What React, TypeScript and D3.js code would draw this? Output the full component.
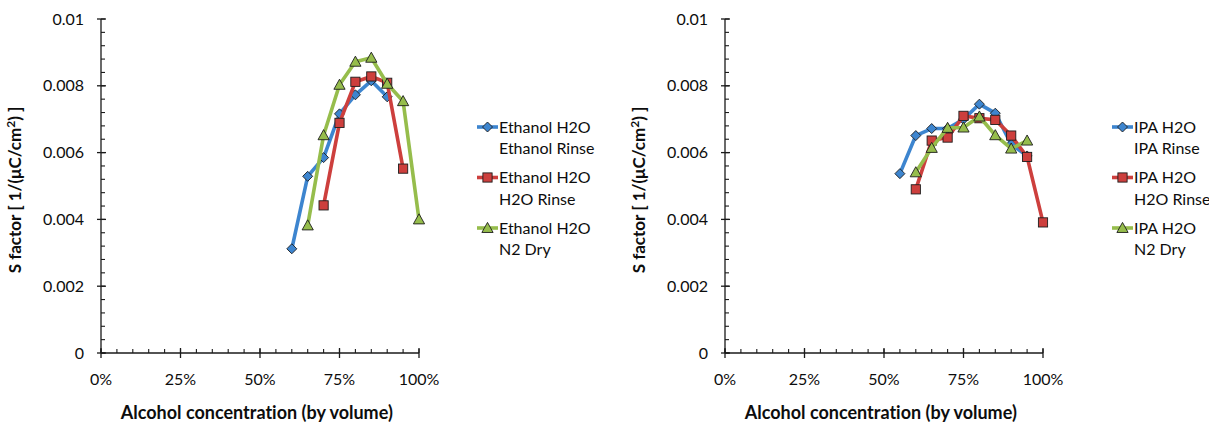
import React from 'react';
import * as d3 from 'd3';

// alcohol concentration (fraction) and S factor values
const ethRinseX = [0.60, 0.65, 0.70, 0.75, 0.80, 0.85, 0.90];
const ethRinseY = [0.00312, 0.00529, 0.00585, 0.00716, 0.00773, 0.00815, 0.00767];
const ethH2oX = [0.70, 0.75, 0.80, 0.85, 0.90, 0.95];
const ethH2oY = [0.00442, 0.00689, 0.00812, 0.00828, 0.00809, 0.00552];
const ethDryX = [0.65, 0.70, 0.75, 0.80, 0.85, 0.90, 0.95, 1.00];
const ethDryY = [0.00382, 0.00652, 0.00803, 0.00872, 0.00884, 0.00806, 0.00754, 0.00400];

const ipaRinseX = [0.55, 0.60, 0.65, 0.70, 0.75, 0.80, 0.85, 0.90, 0.95];
const ipaRinseY = [0.00537, 0.00651, 0.00672, 0.00672, 0.00700, 0.00745, 0.00718, 0.00625, 0.00590];
const ipaH2oX = [0.60, 0.65, 0.70, 0.75, 0.80, 0.85, 0.90, 0.95, 1.00];
const ipaH2oY = [0.00490, 0.00636, 0.00645, 0.00710, 0.00703, 0.00698, 0.00651, 0.00587, 0.00391];
const ipaDryX = [0.60, 0.65, 0.70, 0.75, 0.80, 0.85, 0.90, 0.95];
const ipaDryY = [0.00541, 0.00614, 0.00674, 0.00675, 0.00708, 0.00652, 0.00612, 0.00636];

const ethLegend = [['Ethanol H2O', 'Ethanol Rinse'], ['Ethanol H2O', 'H2O Rinse'], ['Ethanol H2O', 'N2 Dry']];
const ipaLegend = [['IPA H2O', 'IPA Rinse'], ['IPA H2O', 'H2O Rinse'], ['IPA H2O', 'N2 Dry']];

const yTicks = [0, 0.002, 0.004, 0.006, 0.008, 0.01];
const xTicks = [0, 0.25, 0.5, 0.75, 1];

const colors = ['#3d85cf', '#cd3f3d', '#96bd4c'];
const shapes = ['diamond', 'square', 'triangle'];
const font = 'Lato, "Open Sans", sans-serif';

function Marker ({ shape, x, y, fill }) {
  const stroke = '#1d1d1d';
  if (shape === 'diamond') {
    const r = 5;
    return <path d={`M${x},${y - r}L${x + r},${y}L${x},${y + r}L${x - r},${y}Z`} fill={fill} stroke={stroke} strokeWidth={0.9} />;
  }
  if (shape === 'square') {
    const r = 4.6;
    return <rect x={x - r} y={y - r} width={2 * r} height={2 * r} fill={fill} stroke={stroke} strokeWidth={0.9} />;
  }
  const r = 5.6;
  return <path d={`M${x},${y - r}L${x + r},${y + r * 0.8}L${x - r},${y + r * 0.8}Z`} fill={fill} stroke={stroke} strokeWidth={0.9} />;
}

function Panel ({ left, series, legend, legendX }) {
  const x = d3.scaleLinear().domain([0, 1]).range([left, left + 318]);
  const y = d3.scaleLinear().domain([0, 0.01]).range([353, 19]);
  const line = d3.line().x(d => x(d[0])).y(d => y(d[1]));
  const minorY = d3.range(0, 0.01001, 0.0004);
  const minorX = d3.range(0, 1.0001, 0.05);
  const axisColor = '#1a1a1a';

  return (
    <g fontFamily={font} style={{ fontVariantLigatures: 'none' }}>
      {/* y axis */}
      <line x1={x(0)} x2={x(0)} y1={y(0)} y2={y(0.01)} stroke={axisColor} strokeWidth={1.3} />
      {minorY.map((t, i) => (
        <line key={'my' + i} x1={x(0)} x2={x(0) + 4} y1={y(t)} y2={y(t)} stroke={axisColor} strokeWidth={1.1} />
      ))}
      {yTicks.map((t, i) => (
        <g key={'y' + i}>
          <line x1={x(0) - 4} x2={x(0) + 5} y1={y(t)} y2={y(t)} stroke={axisColor} strokeWidth={1.3} />
          <text x={x(0) - 17} y={y(t)} dy="0.35em" textAnchor="end" fontSize={16} fill="#0d0d0d">
            {t === 0 ? '0' : String(+t.toFixed(3))}
          </text>
        </g>
      ))}
      {/* x axis */}
      <line x1={x(0)} x2={x(1)} y1={y(0)} y2={y(0)} stroke={axisColor} strokeWidth={1.3} />
      {minorX.map((t, i) => (
        <line key={'mx' + i} x1={x(t)} x2={x(t)} y1={y(0)} y2={y(0) - 4} stroke={axisColor} strokeWidth={1.1} />
      ))}
      {xTicks.map((t, i) => (
        <g key={'x' + i}>
          <line x1={x(t)} x2={x(t)} y1={y(0) - 5} y2={y(0) + 5} stroke={axisColor} strokeWidth={1.3} />
          <text x={x(t)} y={385} textAnchor="middle" fontSize={16} fill="#0d0d0d">
            {d3.format('.0%')(t)}
          </text>
        </g>
      ))}
      <text x={x(0.49)} y={419} textAnchor="middle" fontSize={18} fontWeight="bold" fill="#0d0d0d">
        Alcohol concentration (by volume)
      </text>
      <text transform={`translate(${left - 80},190) rotate(-90)`} textAnchor="middle" fontSize={17} fontWeight="bold" fill="#0d0d0d">
        S factor [ 1/(μC/cm<tspan dy="-6" fontSize={12}>2</tspan><tspan dy="6">) ]</tspan>
      </text>

      {/* series */}
      {series.map((s, i) => {
        const pts = s.xs.map((v, j) => [v, s.ys[j]]);
        return (
          <g key={'s' + i}>
            <path d={line(pts)} fill="none" stroke={colors[i]} strokeWidth={3.6} strokeLinejoin="round" />
            {pts.map((p, j) => (
              <Marker key={j} shape={shapes[i]} x={x(p[0])} y={y(p[1])} fill={colors[i]} />
            ))}
          </g>
        );
      })}

      {/* legend */}
      {legend.map((lab, i) => {
        const cy = 127 + i * 50.5;
        return (
          <g key={'l' + i}>
            <line x1={legendX} x2={legendX + 21} y1={cy} y2={cy} stroke={colors[i]} strokeWidth={3.6} />
            <Marker shape={shapes[i]} x={legendX + 10.5} y={cy} fill={colors[i]} />
            <text x={legendX + 22} y={cy} dy="0.35em" fontSize={16} fill="#0d0d0d">{lab[0]}</text>
            <text x={legendX + 22} y={cy + 21.5} dy="0.35em" fontSize={16} fill="#0d0d0d">{lab[1]}</text>
          </g>
        );
      })}
    </g>
  );
}

export default function App () {
  const ethSeries = [
    { xs: ethRinseX, ys: ethRinseY },
    { xs: ethH2oX, ys: ethH2oY },
    { xs: ethDryX, ys: ethDryY },
  ];
  const ipaSeries = [
    { xs: ipaRinseX, ys: ipaRinseY },
    { xs: ipaH2oX, ys: ipaH2oY },
    { xs: ipaDryX, ys: ipaDryY },
  ];
  return (
    <svg width={1209} height={425} style={{ position: 'absolute', left: 0, top: 0, background: '#fff' }}>
      <rect width={1209} height={425} fill="#fff" />
      <Panel left={101} series={ethSeries} legend={ethLegend} legendX={477} />
      <Panel left={725} series={ipaSeries} legend={ipaLegend} legendX={1112} />
    </svg>
  );
}
